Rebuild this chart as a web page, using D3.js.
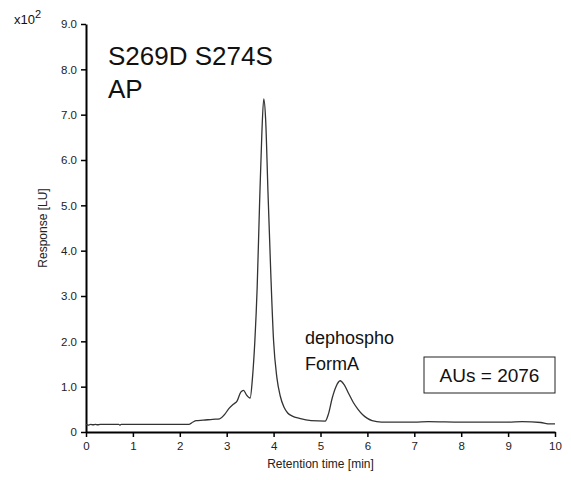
<!DOCTYPE html>
<meta charset="utf-8">
<script src="https://d3js.org/d3.v7.min.js"></script>
<style>
  body { margin: 0; background: #fff; }
  text { font-family: Arial, "Liberation Sans", sans-serif; }
  .tick text { font-size: 11.5px; fill: #222; }
</style>
<div id="chart"></div>
<script>
// retention time [min] and response [x10^2 LU]
var times = [0, 0.05, 0.1, 0.15, 0.2, 0.25, 0.3, 0.5, 0.7, 0.72, 0.75, 1.0, 1.5, 2.0, 2.2,
  2.28, 2.35, 2.5, 2.7, 2.85, 2.95, 3.05, 3.15, 3.22, 3.3, 3.36, 3.42, 3.5, 3.55, 3.6,
  3.65, 3.7, 3.75, 3.79, 3.83, 3.88, 3.94, 4.0, 4.07, 4.14, 4.22, 4.3, 4.4, 4.55, 4.8,
  5.1, 5.17, 5.25, 5.33, 5.42, 5.5, 5.6, 5.7, 5.8, 5.9, 6.0, 6.1, 6.3, 7.0, 7.3, 8.0,
  9.0, 9.3, 9.7, 9.85, 10.0];
var response = [0.17, 0.15, 0.17, 0.16, 0.17, 0.16, 0.17, 0.17, 0.17, 0.15, 0.17, 0.17, 0.17, 0.17, 0.17,
  0.22, 0.25, 0.26, 0.28, 0.29, 0.38, 0.52, 0.62, 0.68, 0.88, 0.92, 0.82, 0.75, 1.2, 2.0,
  3.2, 5.0, 6.6, 7.35, 6.9, 5.3, 3.5, 2.0, 1.2, 0.8, 0.55, 0.42, 0.35, 0.3, 0.25,
  0.24, 0.4, 0.75, 1.0, 1.13, 1.05, 0.85, 0.65, 0.5, 0.38, 0.3, 0.25, 0.22, 0.22, 0.23, 0.22,
  0.22, 0.23, 0.21, 0.18, 0.18];

var xTicks = [0, 1, 2, 3, 4, 5, 6, 7, 8, 9, 10];
var yTicks = [0, 1, 2, 3, 4, 5, 6, 7, 8, 9];

var width = 571, height = 480;
var margin = {top: 24, right: 16, bottom: 48, left: 86};

var svg = d3.select("#chart").append("svg")
  .attr("width", width)
  .attr("height", height);

var x = d3.scaleLinear().domain([0, 10]).range([margin.left, width - margin.right]);
var y = d3.scaleLinear().domain([0, 9]).range([height - margin.bottom, margin.top]);

var data = times.map(function(t, i) { return {t: t, v: response[i]}; });

// axes
svg.append("g")
  .attr("transform", "translate(0," + y(0) + ")")
  .call(d3.axisBottom(x).tickValues(xTicks).tickSize(5).tickSizeOuter(0).tickPadding(5));
svg.append("g")
  .attr("transform", "translate(" + x(0) + ",0)")
  .call(d3.axisLeft(y).tickValues(yTicks).tickSize(5).tickSizeOuter(0).tickPadding(4)
    .tickFormat(function(d) { return d === 0 ? "0" : d3.format(".1f")(d); }));

svg.selectAll(".domain").attr("stroke", "#000").attr("stroke-width", 2);
svg.selectAll(".tick line").attr("stroke", "#000").attr("stroke-width", 1.5);

// trace
var line = d3.line()
  .x(function(d) { return x(d.t); })
  .y(function(d) { return y(d.v); })
  .curve(d3.curveMonotoneX);

svg.append("path")
  .datum(data)
  .attr("d", line)
  .attr("fill", "none")
  .attr("stroke", "#333")
  .attr("stroke-width", 1.3);

// labels
svg.append("text")
  .attr("x", (x(0) + x(10)) / 2)
  .attr("y", 468)
  .attr("text-anchor", "middle")
  .style("font-size", "12px")
  .attr("fill", "#222")
  .text("Retention time [min]");

svg.append("text")
  .attr("transform", "translate(47," + y(4.5) + ") rotate(-90)")
  .attr("text-anchor", "middle")
  .style("font-size", "12px")
  .attr("fill", "#222")
  .text("Response [LU]");

var mult = svg.append("text")
  .attr("x", 14)
  .attr("y", 24)
  .style("font-size", "13px")
  .attr("fill", "#111");
mult.append("tspan").text("x10");
mult.append("tspan").attr("dy", -6).style("font-size", "11px").text("2");

svg.append("text")
  .attr("x", 108).attr("y", 65)
  .style("font-size", "26px").attr("fill", "#111")
  .text("S269D S274S");
svg.append("text")
  .attr("x", 108).attr("y", 98)
  .style("font-size", "26px").attr("fill", "#111")
  .text("AP");

svg.append("text")
  .attr("x", 305).attr("y", 344)
  .style("font-size", "18px").attr("fill", "#111")
  .text("dephospho");
svg.append("text")
  .attr("x", 305).attr("y", 370)
  .style("font-size", "18px").attr("fill", "#111")
  .text("FormA");

svg.append("rect")
  .attr("x", 424).attr("y", 357)
  .attr("width", 131).attr("height", 36)
  .attr("fill", "#fff").attr("stroke", "#222").attr("stroke-width", 1);
svg.append("text")
  .attr("x", 489.5).attr("y", 382)
  .attr("text-anchor", "middle")
  .style("font-size", "19px").attr("fill", "#111")
  .text("AUs = 2076");
</script>
